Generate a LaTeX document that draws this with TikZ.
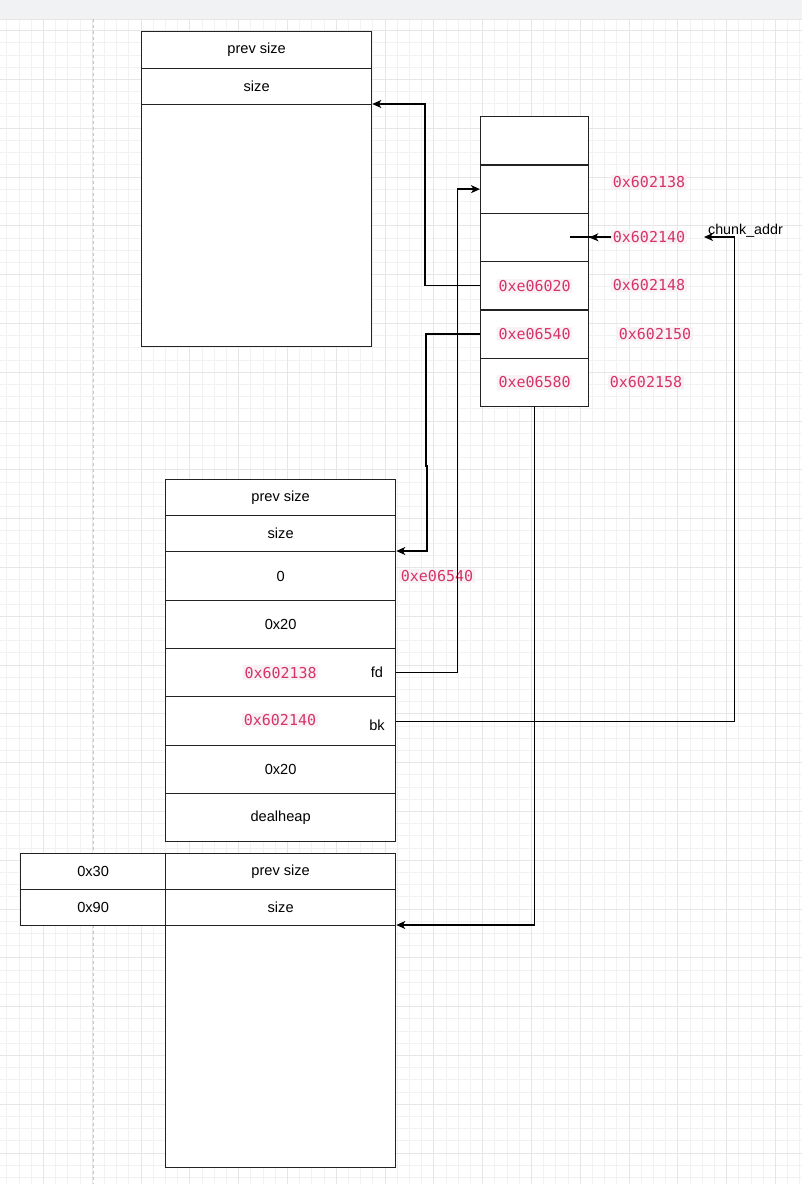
\documentclass[tikz,border=0pt]{standalone}
\usepackage{fontspec}
\usetikzlibrary{arrows.meta,calc}
\newfontfamily\sansf{Liberation Sans}
\newfontfamily\monof{DejaVu Sans Mono}
\definecolor{topbar}{HTML}{F1F2F4}
\definecolor{gridmin}{HTML}{F2F2F2}
\definecolor{gridmaj}{HTML}{E6E6E6}
\definecolor{linec}{HTML}{222222}
\definecolor{codefg}{HTML}{D6336C}
\definecolor{codebg}{HTML}{F9F2F4}
\tikzset{
  cell/.style={draw=linec, line width=1.3pt, inner sep=0pt, anchor=north west,
    font=\sansf\fontsize{14.6}{17}\selectfont, text=black},
  code/.style={fill=codebg, text=codefg, inner sep=1.5pt,
    font=\monof\fontsize{15}{18}\selectfont},
  plain/.style={inner sep=0pt, font=\sansf\fontsize{14.6}{17}\selectfont, text=black},
  conn/.style={draw=black, line width=1.3pt},
  arr/.style={conn, -{Stealth[length=9pt,width=8pt,inset=2.5pt]}},
}
\begin{document}
\begin{tikzpicture}[x=1pt,y=-1pt]
\useasboundingbox (0,0) rectangle (802,1184);
\fill[white] (0,0) rectangle (802,1184);
% grid
\foreach \i in {0,...,65} {
  \pgfmathsetmacro\gx{6.7+12.2*\i}
  \draw[gridmin, line width=0.8pt] (\gx,19) -- (\gx,1184);
}
\foreach \i in {0,...,95} {
  \pgfmathsetmacro\gy{30.5+12.2*\i}
  \draw[gridmin, line width=0.8pt] (0,\gy) -- (802,\gy);
}
\foreach \i in {0,...,16} {
  \pgfmathsetmacro\gx{43.3+48.8*\i}
  \draw[gridmaj, line width=0.8pt] (\gx,19) -- (\gx,1184);
}
\foreach \i in {0,...,23} {
  \pgfmathsetmacro\gy{30.5+48.8*\i}
  \draw[gridmaj, line width=0.8pt] (0,\gy) -- (802,\gy);
}
\fill[topbar] (0,0) rectangle (802,19);
\draw[gridmaj, line width=1pt] (0,19) -- (802,19);
\draw[gray!45, line width=1pt, dash pattern=on 3pt off 3pt] (93,19) -- (93,1184);

% Box A
\node[cell, fill=white, minimum width=230pt, minimum height=37pt] (A1) at (141,31) {prev size};
\node[cell, fill=white, minimum width=230pt, minimum height=36pt] (A2) at (141,68) {size};
\node[cell, fill=white, minimum width=230pt, minimum height=242pt] (A3) at (141,104) {};

% Box B
\foreach \k in {1,...,6} {
  \pgfmathsetmacro\by{116+48.33*(\k-1)}
  \node[cell, fill=white, minimum width=108pt, minimum height=48.33pt] (B\k) at (480,\by) {};
}
\node[code] (B4t) at (B4.center) {0xe06020};
\node[code] (B5t) at (B5.center) {0xe06540};
\node[code] (B6t) at (B6.center) {0xe06580};

% address labels
\node[code] (L138) at (649,182) {0x602138};
\node[code] (L140) at (649,237) {0x602140};
\node[code] (L148) at (649,285) {0x602148};
\node[code] (L150) at (655,334) {0x602150};
\node[code] (L158) at (646,382) {0x602158};
\node[plain, font=\sansf\fontsize{14.3}{17}\selectfont] (chunk) at (745.5,231) {chunk\_addr};
\coordinate (ct) at (704,237);
\coordinate (b3in) at (570,237);

% Box C
\node[cell, fill=white, minimum width=230pt, minimum height=36pt] (C1) at (165,479) {prev size};
\node[cell, fill=white, minimum width=230pt, minimum height=36pt] (C2) at (165,515) {size};
\node[cell, fill=white, minimum width=230pt, minimum height=49pt] (C3) at (165,551) {0};
\node[cell, fill=white, minimum width=230pt, minimum height=48pt] (C4) at (165,600) {0x20};
\node[cell, fill=white, minimum width=230pt, minimum height=48pt] (C5) at (165,648) {};
\node[cell, fill=white, minimum width=230pt, minimum height=49pt] (C6) at (165,696) {};
\node[cell, fill=white, minimum width=230pt, minimum height=48pt] (C7) at (165,745) {0x20};
\node[cell, fill=white, minimum width=230pt, minimum height=48pt] (C8) at (165,793) {dealheap};
\node[code] (C5t) at (C5.center) {0x602138};
\node[code] (C6t) at (280,720) {0x602140};
\node[plain] (fd) at (377,672) {fd};
\node[plain] (bk) at (377,725) {bk};
\node[code] (Lfree) at (437,576) {0xe06540};

% Box D
\node[cell, fill=white, minimum width=145pt, minimum height=36pt] (D1L) at (20,853) {0x30};
\node[cell, fill=white, minimum width=230pt, minimum height=36pt] (D1R) at (165,853) {prev size};
\node[cell, fill=white, minimum width=145pt, minimum height=36pt] (D2L) at (20,889) {0x90};
\node[cell, fill=white, minimum width=230pt, minimum height=36pt] (D2R) at (165,889) {size};
\node[cell, fill=white, minimum width=230pt, minimum height=242pt] (D3) at (165,925) {};

% connectors
\draw[arr] (B4.west) -- ++(-55,0) |- (A3.north east);
\draw[arr] (C5.east) -- ++(61,0) |- (B2.west);
\draw[arr] (B5.west) -- ++(-54,0) -- ++(0,132) -- ++(1,0) |- (C3.north east);
\draw[arr] (B6.south) |- (D3.north east);
\draw[arr] (C6.east) -- ++(338,0) |- (ct);
\draw[conn] (L140.west) -- (b3in);
\draw[arr] (L140.west) -- (B3.east);
\end{tikzpicture}
\end{document}
